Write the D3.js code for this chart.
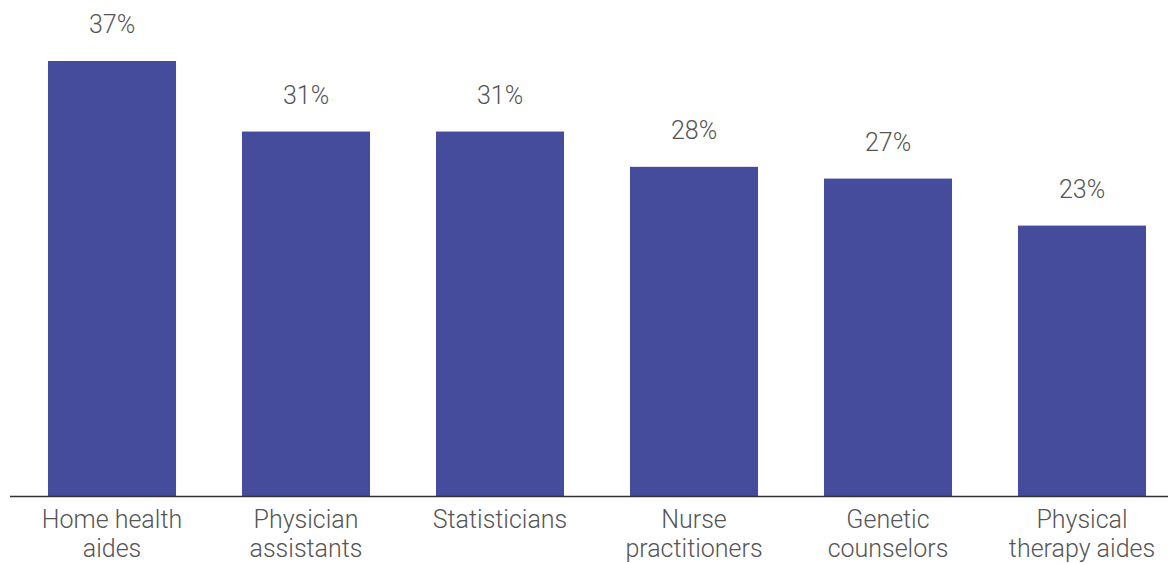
<!DOCTYPE html>
<html>
<head>
<meta charset="utf-8">
<script src="https://cdn.jsdelivr.net/npm/d3@7"></script>
<style>
  body { margin: 0; background: #fff; }
  svg { display: block; }
  text { font-family: Roboto, "Noto Sans", sans-serif; }
</style>
</head>
<body>
<svg id="chart" width="1168" height="563"></svg>
<script>
// jobs data
var jobs = [
  ["Home health", "aides"],
  ["Physician", "assistants"],
  ["Statisticians"],
  ["Nurse", "practitioners"],
  ["Genetic", "counselors"],
  ["Physical", "therapy aides"]
];
var growth = [37, 31, 31, 28, 27, 23];
var barColor = "#444c9b";

var svg = d3.select("#chart");
var baseY = 496;

var x = d3.scaleBand()
  .domain(d3.range(jobs.length))
  .range([15, 1179])
  .paddingInner(0.34)
  .paddingOuter(0.17);

var y = d3.scaleLinear()
  .domain([0, 37])
  .range([baseY, 61]);

// bars
svg.append("g")
  .selectAll("rect")
  .data(growth)
  .enter()
  .append("rect")
  .attr("x", function(d, i) { return x(i); })
  .attr("y", function(d) { return y(d); })
  .attr("width", x.bandwidth())
  .attr("height", function(d) { return baseY - y(d); })
  .attr("fill", barColor);

// value labels
svg.append("g")
  .selectAll("text")
  .data(growth)
  .enter()
  .append("text")
  .attr("x", function(d, i) { return x(i) + x.bandwidth() / 2; })
  .attr("y", function(d) { return y(d) - 28; })
  .attr("text-anchor", "middle")
  .attr("font-size", 25)
  .attr("font-weight", 300)
  .attr("fill", "#555")
  .text(function(d) { return d + "%"; });

// baseline
svg.append("line")
  .attr("x1", 10)
  .attr("x2", 1168)
  .attr("y1", baseY + 0.5)
  .attr("y2", baseY + 0.5)
  .attr("stroke", "#333")
  .attr("stroke-width", 1.5);

// category labels
var cats = svg.append("g")
  .selectAll("text")
  .data(jobs)
  .enter()
  .append("text")
  .attr("x", function(d, i) { return x(i) + x.bandwidth() / 2; })
  .attr("y", 528)
  .attr("text-anchor", "middle")
  .attr("font-size", 25)
  .attr("font-weight", 300)
  .attr("fill", "#555");

cats.selectAll("tspan")
  .data(function(d) { return d; })
  .enter()
  .append("tspan")
  .attr("x", function() { return d3.select(this.parentNode).attr("x"); })
  .attr("dy", function(d, i) { return i == 0 ? 0 : 29; })
  .text(function(d) { return d; });
</script>
</body>
</html>
